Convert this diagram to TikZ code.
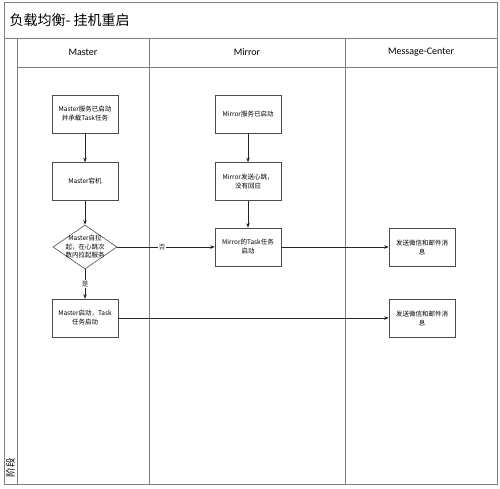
\documentclass[tikz,border=0pt]{standalone}
\usepackage{fontspec}
\setmainfont{Carlito}
\newfontfamily\cjk{Noto Sans CJK SC}
\usetikzlibrary{arrows.meta,shapes.geometric}

\begin{document}
\begin{tikzpicture}[x=1pt,y=-1pt,>={Stealth[length=4.5pt,width=3.5pt]},
 lane/.style={draw=black!50,line width=1pt},
 box/.style={draw=black!70,line width=0.6pt,align=center,minimum width=66pt,minimum height=38pt,inner sep=1pt,font=\cjk\fontsize{6.5}{9}\selectfont},
 cond/.style={diamond,draw=black!70,line width=0.6pt,align=center,minimum width=64pt,minimum height=44pt,inner sep=-3pt,aspect=1.45,font=\cjk\fontsize{6.5}{8.5}\selectfont},
 lbl/.style={fill=white,inner sep=1pt,font=\cjk\fontsize{6.5}{8}\selectfont},
 head/.style={font=\fontsize{10}{12}\selectfont}]
\useasboundingbox (0,0) rectangle (500,488);
\draw[lane] (4,2) rectangle (497,484);
\draw[lane] (4,38) -- (497,38);
\draw[lane] (17,67) -- (497,67);
\draw[lane] (17,38) -- (17,484);
\draw[lane] (149,38) -- (149,484);
\draw[lane] (345,38) -- (345,484);
\node[anchor=west,font=\cjk\fontsize{14}{16}\selectfont] (title) at (6,20) {负载均衡- 挂机重启};
\node[anchor=west,rotate=90,font=\cjk\fontsize{9.5}{11}\selectfont] (stage) at (10.5,481) {阶段};
\node[head] (hmaster) at (83,52) {Master};
\node[head] (hmirror) at (247,52) {Mirror};
\node[head] (hcenter) at (421,52) {Message-Center};

\node[box] (m1) at (85,114) {Master服务已启动\\并承载Task任务};
\node[box] (m2) at (85,181.5) {Master宕机};
\node[cond] (md) at (85,247) {Master自拉\\起，在心跳次\\数内拉起服务};
\node[box] (m4) at (85,318) {Master启动，Task\\任务启动};
\node[box] (r1) at (248,114) {Mirror服务已启动};
\node[box] (r2) at (248,181.5) {Mirror发送心跳，\\没有回应};
\node[box] (r3) at (248,247) {Mirror的Task任务\\启动};
\node[box] (c1) at (422,247) {发送微信和邮件消\\息};
\node[box] (c2) at (422,318) {发送微信和邮件消\\息};

\begin{scope}[black!85,line width=0.6pt]
\draw[->] (m1) -- (m2);
\draw[->] (m2) -- (md);
\draw[->] (md) -- node[lbl] (yes) {是} (m4);
\draw[->] (md) -- node[lbl,pos=0.46] (no) {否} (r3);
\draw[->] (r1) -- (r2);
\draw[->] (r2) -- (r3);
\draw[->] (r3) -- (c1);
\draw[->] (m4) -- (c2);
\end{scope}
\end{tikzpicture}
\end{document}
